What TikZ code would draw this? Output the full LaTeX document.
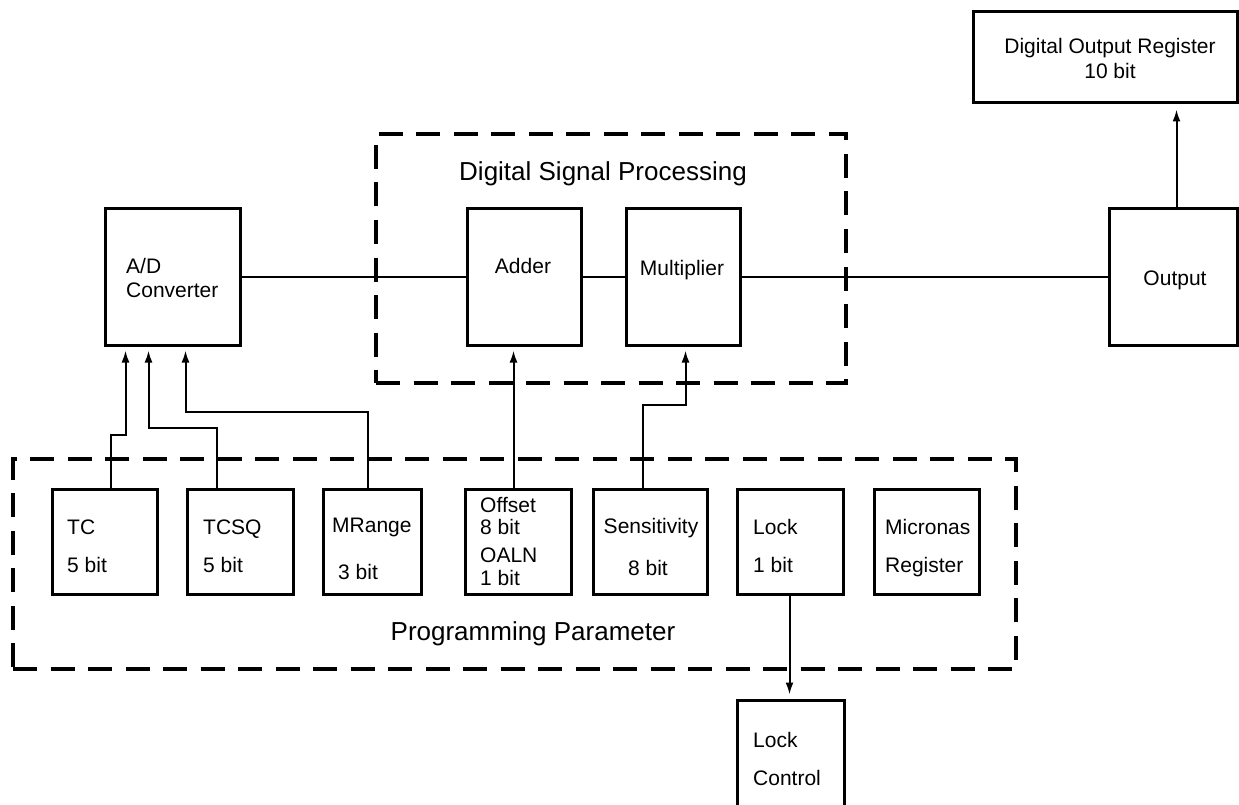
\documentclass[tikz,border=0pt]{standalone}
\usepackage{fontspec}
\setmainfont{Liberation Sans}
\usetikzlibrary{arrows.meta}
\begin{document}
\begin{tikzpicture}[x=1pt,y=-1pt,
  blk/.style={draw, line width=3pt, rectangle, inner sep=0pt},
  dbox/.style={draw, line width=4.5pt, dash pattern=on 24pt off 13.5pt, rectangle, inner sep=0pt},
  txt/.style={inner sep=0pt, font=\fontsize{21}{25}\selectfont},
  ttl/.style={inner sep=0pt, font=\fontsize{26}{31}\selectfont},
  arr/.style={line width=2pt, -{Latex[length=12pt,width=8pt]}},
  ln/.style={line width=2pt}]
\useasboundingbox (0,0) rectangle (1239,805);
\clip (0,0) rectangle (1239,805);
\fill[white] (0,0) rectangle (1239,805);

% dashed groups
\node[dbox, minimum width=470pt, minimum height=249pt] (dsp) at (611,258.5) {};
\node[dbox, minimum width=1003pt, minimum height=210pt] (pp) at (514.5,564) {};
\node[ttl, anchor=base] (dsptitle) at (603,181) {Digital Signal Processing};
\node[ttl, anchor=base] (pptitle) at (533,640) {Programming Parameter};

% blocks
\node[blk, minimum width=264pt, minimum height=91pt] (dor) at (1105,57.5) {};
\node[blk, minimum width=135pt, minimum height=136pt] (ad) at (172.5,277) {};
\node[blk, minimum width=114pt, minimum height=136pt] (adder) at (524,277) {};
\node[blk, minimum width=114pt, minimum height=136pt] (mult) at (683,277) {};
\node[blk, minimum width=128pt, minimum height=136pt] (output) at (1173,277) {};

\node[blk, minimum width=105pt, minimum height=105pt] (tc) at (104.5,541.5) {};
\node[blk, minimum width=106pt, minimum height=105pt] (tcsq) at (240,541.5) {};
\node[blk, minimum width=98pt, minimum height=105pt] (mrange) at (372,541.5) {};
\node[blk, minimum width=106pt, minimum height=105pt] (offset) at (518,541.5) {};
\node[blk, minimum width=114pt, minimum height=105pt] (sens) at (650,541.5) {};
\node[blk, minimum width=106pt, minimum height=105pt] (lock) at (790,541.5) {};
\node[blk, minimum width=105pt, minimum height=105pt] (micro) at (926.5,541.5) {};
\node[blk, minimum width=107pt, minimum height=140pt] (lockc) at (790.5,770) {};

% texts
\node[txt, anchor=base] (t1) at (1110,54) {Digital Output Register};
\node[txt, anchor=base] (t2) at (1110,79) {10 bit};
\node[txt, anchor=base west] (t3) at (126,273) {A/D};
\node[txt, anchor=base west] (t4) at (126,297) {Converter};
\node[txt, anchor=base] (t5) at (523,273) {Adder};
\node[txt, anchor=base] (t6) at (682,275) {Multiplier};
\node[txt, anchor=base] (t7) at (1175,285) {Output};

\node[txt, anchor=base west] (t8) at (67,534) {TC};
\node[txt, anchor=base west] (t9) at (67,572) {5 bit};
\node[txt, anchor=base west] (t10) at (203,534) {TCSQ};
\node[txt, anchor=base west] (t11) at (203,572) {5 bit};
\node[txt, anchor=base west] (t12) at (332,532) {MRange};
\node[txt, anchor=base west] (t13) at (338,579) {3 bit};
\node[txt, anchor=base west] (t14) at (480,512) {Offset};
\node[txt, anchor=base west] (t15) at (480,534) {8 bit};
\node[txt, anchor=base west] (t16) at (480,562) {OALN};
\node[txt, anchor=base west] (t17) at (480,585) {1 bit};
\node[txt, anchor=base] (t18) at (651,533) {Sensitivity};
\node[txt, anchor=base] (t19) at (648,575) {8 bit};
\node[txt, anchor=base west] (t20) at (753,534) {Lock};
\node[txt, anchor=base west] (t21) at (753,572) {1 bit};
\node[txt, anchor=base west] (t22) at (885,534) {Micronas};
\node[txt, anchor=base west] (t23) at (885,572) {Register};
\node[txt, anchor=base west] (t24) at (753,747) {Lock};
\node[txt, anchor=base west] (t25) at (753,785) {Control};

% signal path
\draw[ln] (ad.east) -- (adder.west);
\draw[ln] (adder.east) -- (mult.west);
\draw[ln] (mult.east) -- (output.west);
\draw[arr, shorten >=5pt] ([xshift=69pt]output.north west) -- ([xshift=205pt]dor.south west);

% parameter connections
\draw[arr, shorten >=4pt] ([xshift=60pt]tc.north west) -- ++(0,-53) -| ([xshift=22pt]ad.south west);
\draw[arr, shorten >=4pt] ([xshift=31pt]tcsq.north west) -- ++(0,-60) -| ([xshift=45pt]ad.south west);
\draw[arr, shorten >=4pt] ([xshift=46pt]mrange.north west) -- ++(0,-76) -| ([xshift=82pt]ad.south west);
\draw[arr, shorten >=4pt] ([xshift=50pt]offset.north west) -- ([xshift=48pt]adder.south west);
\draw[arr, shorten >=4pt] ([xshift=51pt]sens.north west) -- ++(0,-83) -| ([xshift=61pt]mult.south west);
\draw[arr, shorten >=4pt] ([xshift=54pt]lock.south west) -- ([xshift=54pt]lockc.north west);
\end{tikzpicture}
\end{document}
